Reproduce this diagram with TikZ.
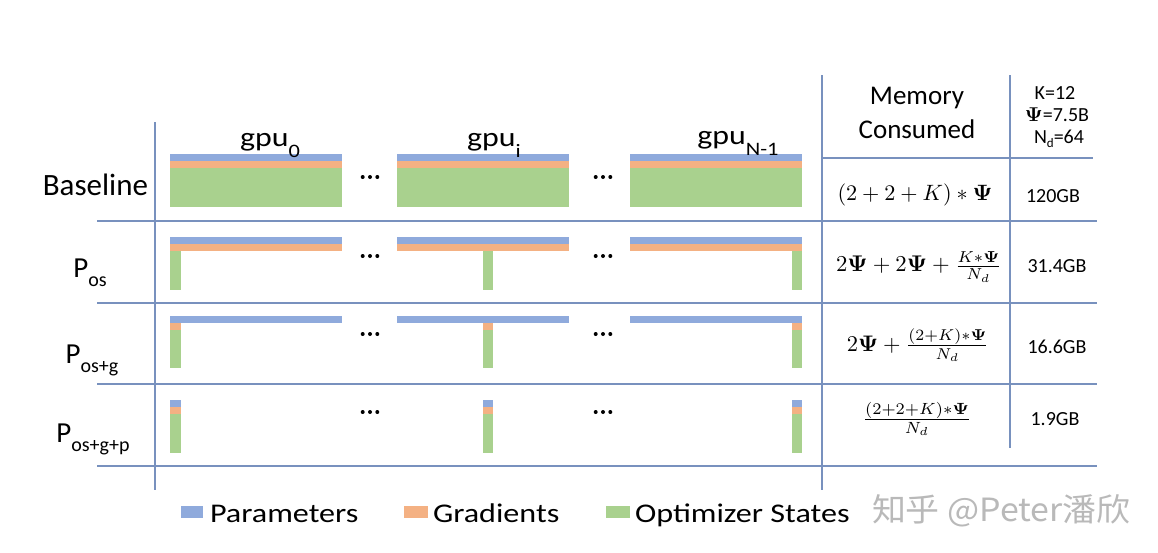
\documentclass[tikz,border=0pt]{standalone}
\usepackage{amsmath}
\usepackage{graphicx}
\usepackage[no-math]{fontspec}
\setmainfont{Carlito}
\newfontfamily\cjk{Noto Sans CJK SC}
\definecolor{parc}{RGB}{143,170,220}
\definecolor{grdc}{RGB}{244,177,131}
\definecolor{optc}{RGB}{169,209,142}
\definecolor{linec}{RGB}{120,145,190}
\definecolor{wmc}{RGB}{185,185,185}
\newcommand{\fs}[1]{\fontsize{#1}{#1}\selectfont}
\newcommand{\mth}[2]{\scalebox{#1}{$#2$}}
\newcommand{\wide}[2]{\scalebox{#1}[1]{#2}}
\tikzset{
  grid/.style={draw=linec, line width=1.4pt},
  lbl/.style={inner sep=0pt, outer sep=0pt, anchor=base},
  dotc/.style={fill=black, circle, inner sep=0pt, minimum size=4pt},
}
\begin{document}
\begin{tikzpicture}[x=1pt,y=-1pt]
\useasboundingbox (0,0) rectangle (1158,552);
\fill[white] (0,0) rectangle (1158,552);
% grid lines
\draw[grid] (155,122) -- (155,490);
\draw[grid] (822,75) -- (822,490);
\draw[grid] (1010,75) -- (1010,448);
\draw[grid] (822,158) -- (1093,158);
\foreach \y in {221,303,384,466} \draw[grid] (97,\y) -- (1097,\y);
% full-width bars
\foreach \a/\b in {170/342,397/569,630/802}{
  \fill[parc] (\a,154) rectangle (\b,161);
  \fill[grdc] (\a,161) rectangle (\b,168);
  \fill[optc] (\a,168) rectangle (\b,207);
  \fill[parc] (\a,237) rectangle (\b,244);
  \fill[grdc] (\a,244) rectangle (\b,251);
  \fill[parc] (\a,316) rectangle (\b,323);
}
% narrow partition columns
\foreach \c/\d in {170/181,483/493,792/802}{
  \fill[optc] (\c,251) rectangle (\d,290);
  \fill[grdc] (\c,323) rectangle (\d,330);
  \fill[optc] (\c,330) rectangle (\d,368);
  \fill[parc] (\c,400) rectangle (\d,407);
  \fill[grdc] (\c,407) rectangle (\d,414);
  \fill[optc] (\c,414) rectangle (\d,453);
}
% ellipsis dots
\foreach \x in {370,603}{
  \foreach \y in {177,256,334,412}{
    \node[dotc] at (\x-7.3,\y) {};
    \node[dotc] at (\x,\y) {};
    \node[dotc] at (\x+7.3,\y) {};
  }
}
% gpu labels
\node[lbl] (g0) at (270,146) {\wide{1.18}{\fs{27}gpu\raisebox{-11pt}{\fs{19}0}}};
\node[lbl] (gi) at (494,146) {\wide{1.18}{\fs{27}gpu\raisebox{-11pt}{\fs{19}i}}};
\node[lbl] (gn) at (738,144) {\wide{1.18}{\fs{27}gpu\raisebox{-11pt}{\fs{19}N-1}}};
% row labels
\node[lbl, anchor=base east] (rb) at (148,195) {\fs{31}Baseline};
\node[lbl] (r1) at (90,277) {\fs{29}P\raisebox{-9pt}{\fs{20}os}};
\node[lbl] (r2) at (92,363) {\fs{29}P\raisebox{-9pt}{\fs{20}os+g}};
\node[lbl] (r3) at (93,442) {\fs{29}P\raisebox{-9pt}{\fs{20}os+g+p}};
% header
\node[lbl] (m1) at (917,104) {\fs{27}Memory};
\node[lbl] (m2) at (917,138) {\fs{27}Consumed};
\node[lbl] (k1) at (1055,99) {\fs{20}K=12};
\node[lbl] (k2) at (1057,121) {\mth{2.0}{\mathbf{\Psi}}\fs{20}=7.5B};
\node[lbl] (k3) at (1059,143) {\fs{20}N\raisebox{-4pt}{\fs{13}d}=64};
% formulas
\node[inner sep=0pt] (f1) at (915,195) {\mth{2.22}{(2+2+K)\ast\mathbf{\Psi}}};
\node[inner sep=0pt] (f2) at (919,267) {\mth{2.27}{2\mathbf{\Psi}+2\mathbf{\Psi}+\frac{K\ast\mathbf{\Psi}}{N_d}}};
\node[inner sep=0pt] (f3) at (918,345) {\mth{2.25}{2\mathbf{\Psi}+\frac{(2+K)\ast\mathbf{\Psi}}{N_d}}};
\node[inner sep=0pt] (f4) at (917,419) {\mth{2.32}{\frac{(2+2+K)\ast\mathbf{\Psi}}{N_d}}};
% values
\node[lbl] (v1) at (1053,202) {\fs{20}120GB};
\node[lbl] (v2) at (1057,272) {\fs{20}31.4GB};
\node[lbl] (v3) at (1057,353) {\fs{20}16.6GB};
\node[lbl] (v4) at (1055,425) {\fs{20}1.9GB};
% legend
\fill[parc] (181,506) rectangle (203,518);
\node[lbl, anchor=base west] (lp) at (210,522) {\wide{1.19}{\fs{27}Parameters}};
\fill[grdc] (404,506) rectangle (428,518);
\node[lbl, anchor=base west] (lg) at (433,522) {\wide{1.19}{\fs{27}Gradients}};
\fill[optc] (606,506) rectangle (630,518);
\node[lbl, anchor=base west] (lo) at (635,522) {\wide{1.19}{\fs{27}Optimizer States}};
\node[lbl, anchor=base west, text=wmc] (wm) at (872,521) {\wide{1.06}{\cjk\fs{32}知乎 @Peter潘欣}};
\end{tikzpicture}
\end{document}
